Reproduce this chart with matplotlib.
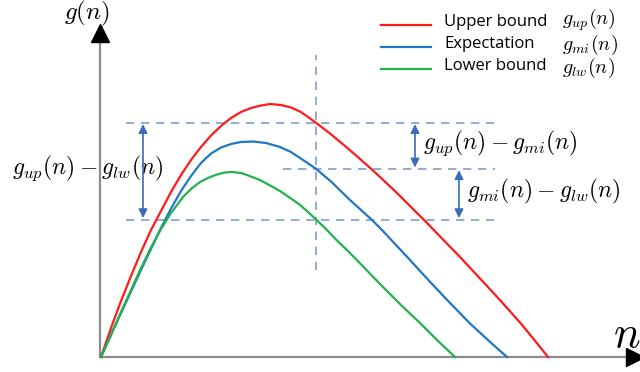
import numpy as np
import matplotlib.pyplot as plt

plt.rcParams['mathtext.fontset'] = 'cm'

# sampled points of the three curves (n, g)
n_up = [0, 10, 20, 30, 40, 50, 60, 70, 80, 90, 100, 110, 120, 130, 140, 150, 160, 169,
        180, 190, 200, 214, 229, 244, 258, 272, 286, 299, 312, 326, 342, 359, 372, 386,
        402, 419, 433, 447]
g_up = [0, 29, 56, 81, 105, 127, 146, 165, 182, 197, 210, 221.5, 231, 239, 245, 249, 251.5, 253,
        252, 249.5, 245, 235, 223.5, 211, 199, 186.5, 173.5, 161, 148, 134, 117.5, 100, 86, 71,
        53.5, 34.5, 17.5, 0]

n_mi = [0, 10, 20, 30, 40, 50, 60, 70, 80, 90, 100, 110, 120, 130, 140, 152,
        165, 179, 190, 199, 214, 230, 249, 260, 271, 281, 295, 309, 320, 332, 350, 369, 388, 406]
g_mi = [0, 22, 44, 65.5, 87, 108, 129, 148.5, 166, 181, 194, 203.5, 209.5, 213, 215, 215.5,
        214, 210, 205, 199, 189, 175.5, 157, 147, 137, 127, 112, 97, 85, 72, 53, 33.5, 16, 0]

n_lw = [0, 10, 20, 30, 40, 50, 60, 70, 82, 90, 99, 108, 116, 124, 131,
        140, 146, 159, 170, 179, 190, 199, 207, 215, 224, 236, 249, 265, 282, 300, 319, 336, 354]
g_lw = [0, 22.5, 45, 67, 89, 109.5, 128, 144, 160, 168, 175, 179.5, 182.5, 184.5, 185,
        184, 182, 177, 171, 166, 158.5, 152, 145, 137.5, 129, 116.5, 104, 87.5, 70, 52, 34, 17, 0]

names = ["Upper bound", "Expectation", "Lower bound"]
symbols = [r"$g_{up}(n)$", r"$g_{mi}(n)$", r"$g_{lw}(n)$"]
colors = ["#ff1a1a", "#1f77c4", "#22b14c"]

n_cut = 215  # where the gaps are measured

fig = plt.figure(figsize=(6.4, 3.72), dpi=100)
ax = fig.add_axes([0, 0, 1, 1])
ax.set_xlim(-101, 539)
ax.set_ylim(-15, 357)
ax.axis('off')

# axes with arrow heads
axis_c = "#8c8c8c"
ax.plot([-1, -1], [0, 318], color=axis_c, lw=1.6, zorder=2)
ax.plot([-1], [324], marker='^', ms=13, color='k', zorder=3)
ax.plot([0, 530], [0, 0], color=axis_c, lw=1.6, zorder=2)
ax.plot([534], [0], marker='>', ms=13, color='k', zorder=3)
ax.text(-14, 344, r"$g(n)$", fontsize=18, ha='center', va='center')
ax.text(526, 22, r"$n$", fontsize=32, ha='center', va='center')

# the three curves
for n, g, c in zip([n_up, n_mi, n_lw], [g_up, g_mi, g_lw], colors):
    ax.plot(n, g, color=c, lw=1.6, zorder=4, solid_joinstyle='round')

# dashed guides at n_cut
dash_c = "#7f9dcc"
lv_up = np.interp(n_cut, n_up, g_up)
lv_mi = np.interp(n_cut, n_mi, g_mi)
lv_lw = np.interp(n_cut, n_lw, g_lw)
ax.plot([n_cut, n_cut], [87, 302], color=dash_c, lw=1.2, ls=(0, (5, 4)), zorder=1)
ax.plot([25, 394], [lv_up, lv_up], color=dash_c, lw=1.2, ls=(0, (5, 4)), zorder=1)
ax.plot([182, 394], [lv_mi, lv_mi], color=dash_c, lw=1.2, ls=(0, (5, 4)), zorder=1)
ax.plot([25, 394], [lv_lw, lv_lw], color=dash_c, lw=1.2, ls=(0, (5, 4)), zorder=1)

# double arrows for the gaps
arrow_c = "#3a6db5"
props = dict(arrowstyle='<|-|>', color=arrow_c, lw=1.2, mutation_scale=13,
             shrinkA=1, shrinkB=1)
ax.annotate('', xy=(42, lv_lw), xytext=(42, lv_up), arrowprops=props)
ax.annotate('', xy=(314, lv_mi), xytext=(314, lv_up), arrowprops=props)
ax.annotate('', xy=(358, lv_lw), xytext=(358, lv_mi), arrowprops=props)

ax.text(-13, (lv_up + lv_lw) / 2 + 3, r"$g_{up}(n) - g_{lw}(n)$", fontsize=17,
        ha='center', va='center', zorder=1)
ax.text(322, (lv_up + lv_mi) / 2 + 3, r"$g_{up}(n) - g_{mi}(n)$", fontsize=17,
        ha='left', va='center')
ax.text(366, (lv_mi + lv_lw) / 2 + 3, r"$g_{mi}(n) - g_{lw}(n)$", fontsize=17,
        ha='left', va='center')

# legend
sym_dy = [5, 2, 1]
for i, (name, sym, c) in enumerate(zip(names, symbols, colors)):
    gy = 332 - 22 * i
    ax.plot([280, 330], [gy, gy], color=c, lw=1.6)
    ax.text(343, gy + 3, name, fontsize=12, family='Open Sans', ha='left', va='center')
    ax.text(461, gy + sym_dy[i], sym, fontsize=14.5, ha='left', va='center')

fig.savefig("out.png", dpi=100)
